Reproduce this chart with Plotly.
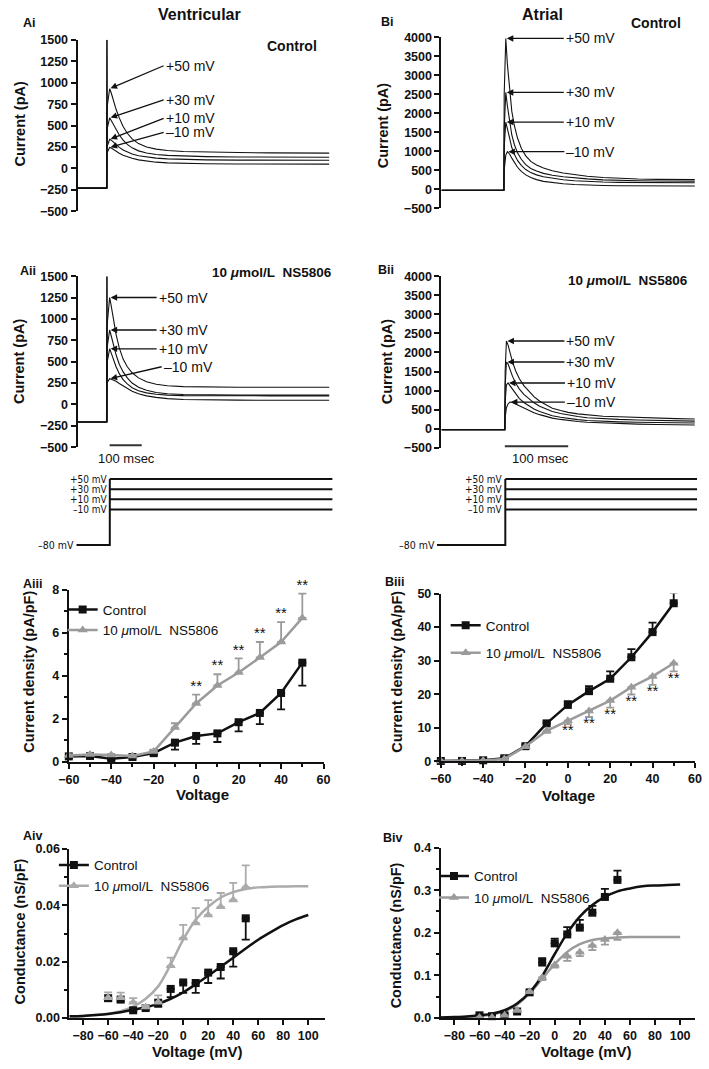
import plotly.graph_objects as go

W, H = 709, 1069
FONT = "Liberation Sans, Arial, Helvetica, sans-serif"
NARROW = "Liberation Sans Narrow, Arial Narrow, DejaVu Sans Condensed, Liberation Sans, sans-serif"
INK = "#111111"
GREY = "#9b9b9b"
GREY_LT = "#ababab"

# ---------------- raw current traces (pA) against time (ms) ----------------
step_labels = ["+50 mV", "+30 mV", "+10 mV", "\u201310 mV"]

t_vent = [0, 91, 91.5, 100, 105, 112, 120, 130, 142, 155, 170, 190, 215, 245, 280, 330, 400, 500, 600, 700, 785]
ctrl_vent_p50 = [-230, -230, 700, 930, 880, 790, 690, 590, 490, 410, 345, 290, 250, 225, 210, 198, 190, 185, 182, 180, 178]
ctrl_vent_p30 = [-230, -230, 450, 590, 560, 510, 450, 390, 330, 280, 240, 205, 180, 163, 152, 143, 138, 134, 132, 130, 130]
ctrl_vent_p10 = [-230, -230, 250, 340, 330, 305, 275, 245, 215, 190, 168, 148, 132, 120, 112, 105, 100, 97, 96, 95, 95]
ctrl_vent_m10 = [-230, -230, 180, 245, 238, 220, 200, 178, 155, 135, 118, 100, 85, 73, 65, 58, 54, 52, 51, 50, 50]

ns_vent_p50 = [-205, -205, 900, 1250, 1150, 980, 820, 660, 530, 440, 370, 310, 265, 235, 218, 208, 203, 201, 200, 200, 200]
ns_vent_p30 = [-205, -205, 650, 870, 800, 690, 580, 470, 380, 310, 250, 200, 165, 140, 125, 115, 110, 108, 108, 108, 108]
ns_vent_p10 = [-205, -205, 480, 650, 600, 520, 440, 360, 290, 240, 195, 160, 135, 118, 108, 103, 100, 100, 100, 100, 100]
ns_vent_m10 = [-205, -205, 250, 300, 295, 285, 270, 245, 215, 185, 155, 125, 100, 82, 68, 58, 52, 50, 48, 48, 48]

# capacitive transient at the start of the step
spike_t = [91, 91.6, 92.2]
ctrl_vent_spike = [-230, 1500, 300]
ns_vent_spike = [-205, 1500, 300]

t_atr = [0, 98.5, 99, 101.5, 104, 107.5, 111, 115, 120, 126, 133, 141, 150, 161, 175, 192, 210, 230, 255, 280, 310, 340, 370, 400]
ctrl_atr_p50 = [-25, -25, 2500, 3970, 3300, 2550, 2050, 1680, 1350, 1080, 880, 735, 640, 560, 490, 430, 385, 345, 310, 285, 270, 262, 260, 258]
ctrl_atr_p30 = [-25, -25, 1600, 2550, 2200, 1750, 1430, 1180, 960, 790, 650, 550, 480, 420, 370, 330, 300, 275, 250, 235, 225, 220, 217, 216]
ctrl_atr_p10 = [-25, -25, 1100, 1770, 1600, 1320, 1100, 920, 760, 630, 520, 440, 380, 330, 285, 250, 225, 205, 192, 183, 178, 175, 173, 173]
ctrl_atr_m10 = [-25, -25, 500, 900, 990, 930, 820, 700, 580, 470, 380, 310, 255, 210, 175, 148, 128, 112, 100, 93, 89, 87, 86, 86]

t_atr_ns = [0, 100, 100.5, 102.5, 105, 108, 112, 117, 123, 130, 138, 146, 155, 165, 175, 188, 200, 215, 230, 255, 280, 310, 340, 370, 400]
ns_atr_p50 = [-25, -25, 1500, 2300, 2200, 2000, 1760, 1520, 1310, 1130, 970, 840, 720, 620, 540, 480, 430, 390, 360, 330, 315, 295, 280, 265, 255]
ns_atr_p30 = [-25, -25, 1100, 1750, 1700, 1550, 1380, 1200, 1040, 900, 780, 680, 590, 510, 450, 400, 360, 320, 290, 260, 245, 230, 215, 205, 200]
ns_atr_p10 = [-25, -25, 700, 1150, 1200, 1130, 1020, 900, 790, 690, 600, 520, 450, 390, 340, 300, 270, 240, 215, 190, 180, 170, 160, 155, 150]
ns_atr_m10 = [-25, -25, 300, 550, 650, 700, 690, 650, 600, 540, 480, 420, 370, 320, 280, 245, 215, 190, 170, 150, 135, 122, 112, 105, 100]

scale_bar_ms = [100, 200]

# ---------------- voltage protocol ----------------
hold_mv = -80
step_mv = [50, 30, 10, -10]
prot_vent_t = [-3, 100, 785]
prot_atr_t = [-7, 100, 400]

# ---------------- I-V and G-V summaries ----------------
volt = [-60, -50, -40, -30, -20, -10, 0, 10, 20, 30, 40, 50]
sig = ["", "", "", "", "", "", "**", "**", "**", "**", "**", "**"]

vent_dens_ctrl = [0.26, 0.28, 0.15, 0.23, 0.41, 0.90, 1.21, 1.33, 1.85, 2.28, 3.21, 4.62]
vent_dens_ctrl_sem = [0.08, 0.06, 0.06, 0.06, 0.08, 0.33, 0.37, 0.40, 0.43, 0.52, 0.76, 1.07]
vent_dens_ns = [0.30, 0.35, 0.33, 0.28, 0.49, 1.60, 2.72, 3.56, 4.16, 4.86, 5.58, 6.70]
vent_dens_ns_sem = [0.05, 0.05, 0.05, 0.05, 0.08, 0.20, 0.41, 0.52, 0.66, 0.72, 0.92, 1.13]

atr_dens_ctrl = [0.1, 0.1, 0.3, 0.9, 4.5, 11.3, 16.8, 20.9, 24.6, 31.0, 38.5, 47.1]
atr_dens_ctrl_sem = [0.3, 0.3, 0.3, 0.4, 0.5, 0.6, 1.1, 1.5, 2.2, 2.4, 2.8, 3.2]
atr_dens_ns = [0.1, 0.1, 0.2, 0.7, 4.4, 9.1, 12.1, 15.0, 18.1, 22.1, 25.3, 29.2]
atr_dens_ns_sem = [0.2, 0.2, 0.2, 0.3, 0.5, 0.6, 1.0, 1.8, 2.1, 2.2, 2.5, 2.4]

vent_g_ctrl = [0.0070, 0.0065, 0.0027, 0.0035, 0.0054, 0.0103, 0.0126, 0.0124, 0.0161, 0.0181, 0.0237, 0.0354]
vent_g_ctrl_sem = [0.0010, 0.0008, 0.0005, 0.0006, 0.0015, 0.0029, 0.0037, 0.0035, 0.0037, 0.0041, 0.0055, 0.0076]
vent_g_ns = [0.0072, 0.0072, 0.0056, 0.0039, 0.0056, 0.0185, 0.0284, 0.0337, 0.0366, 0.0395, 0.0419, 0.0465]
vent_g_ns_sem = [0.0019, 0.0018, 0.0014, 0.0006, 0.0024, 0.0029, 0.0047, 0.0053, 0.0053, 0.0049, 0.0061, 0.0077]

atr_g_ctrl = [0.006, 0.004, 0.006, 0.015, 0.060, 0.130, 0.175, 0.196, 0.212, 0.247, 0.284, 0.324]
atr_g_ctrl_sem = [0.002, 0.002, 0.002, 0.003, 0.004, 0.010, 0.011, 0.017, 0.018, 0.016, 0.019, 0.022]
atr_g_ns = [0.001, 0.001, 0.006, 0.018, 0.062, 0.095, 0.124, 0.145, 0.154, 0.170, 0.184, 0.200]
atr_g_ns_sem = [0.001, 0.001, 0.002, 0.003, 0.004, 0.006, 0.006, 0.011, 0.009, 0.011, 0.012, 0.017]

# Boltzmann fit curves
v_fit = [-91, -80, -70, -60, -50, -40, -30, -20, -10, 0, 10, 20, 30, 40, 50, 60, 70, 80, 90, 100]
vent_fit_ctrl = [0.0006, 0.0007, 0.0010, 0.0014, 0.0020, 0.0029, 0.0038, 0.0050, 0.0068, 0.0091, 0.0119, 0.0150, 0.0182,
                 0.0214, 0.0247, 0.0278, 0.0305, 0.0330, 0.0350, 0.0366]
vent_fit_ns = [0.0005, 0.0007, 0.0010, 0.0015, 0.0024, 0.0040, 0.0068, 0.0112, 0.0190, 0.0278, 0.0349, 0.0395, 0.0428,
               0.0447, 0.0458, 0.0464, 0.0466, 0.0467, 0.0468, 0.0468]
atr_fit_ctrl = [0.001, 0.002, 0.003, 0.006, 0.010, 0.018, 0.034, 0.060, 0.099, 0.150, 0.199, 0.238, 0.265, 0.284, 0.297,
                0.304, 0.309, 0.311, 0.312, 0.313]
atr_fit_ns = [0.0005, 0.001, 0.002, 0.004, 0.008, 0.016, 0.031, 0.058, 0.092, 0.126, 0.155, 0.173, 0.183, 0.187, 0.189,
              0.190, 0.190, 0.190, 0.190, 0.190]

NS_NAME = "10 <i>\u03bc</i>mol/L\u00a0 NS5806"


def xdom(left, right):
    return [left / W, right / W]


def ydom(top, bottom):
    return [1 - bottom / H, 1 - top / H]


def px(x, y):
    return x / W, 1 - y / H


tickfont = dict(family=FONT, size=12.5, color=INK, weight="bold")


def axis(rng, dom, **kw):
    d = dict(range=rng, domain=dom, showline=True, linewidth=2, linecolor=INK,
             ticks="outside", ticklen=5, tickwidth=2, tickcolor=INK,
             tickprefix="<b>", ticksuffix="</b>",
             showgrid=False, zeroline=False, tickfont=tickfont, fixedrange=True)
    d.update(kw)
    return d


hidden = dict(visible=False, showgrid=False, zeroline=False, fixedrange=True)

fig = go.Figure()
ann = []
shapes = []

# ---------------- current traces ----------------
def add_currents(t, series, n, spike=None):
    if spike is not None:
        fig.add_trace(go.Scatter(x=spike_t, y=spike, mode="lines", line=dict(color=INK, width=1.6),
                                 xaxis=f"x{n}", yaxis=f"y{n}", showlegend=False, hoverinfo="skip"))
    for s in series:
        fig.add_trace(go.Scatter(x=t, y=s, mode="lines", line=dict(color=INK, width=1.1),
                                 xaxis=f"x{n}", yaxis=f"y{n}", showlegend=False, hoverinfo="skip"))


def add_arrows(t, series, n, offsets):
    for s, lab, (ax, ay) in zip(series, step_labels, offsets):
        i = s.index(max(s))
        ann.append(dict(x=t[i], y=s[i], xref=f"x{n}", yref=f"y{n}", text=lab, showarrow=True,
                        arrowhead=2, arrowsize=1, arrowwidth=1.3, arrowcolor=INK, ax=ax, ay=ay,
                        xanchor="left", yanchor="middle", standoff=1,
                        font=dict(family=FONT, size=14, color=INK)))


ctrl_vent = [ctrl_vent_p50, ctrl_vent_p30, ctrl_vent_p10, ctrl_vent_m10]
ns_vent = [ns_vent_p50, ns_vent_p30, ns_vent_p10, ns_vent_m10]
ctrl_atr = [ctrl_atr_p50, ctrl_atr_p30, ctrl_atr_p10, ctrl_atr_m10]
ns_atr = [ns_atr_p50, ns_atr_p30, ns_atr_p10, ns_atr_m10]

add_currents(t_vent, ctrl_vent, 1, ctrl_vent_spike)
add_currents(t_atr, ctrl_atr, 2)
add_currents(t_vent, ns_vent, 3, ns_vent_spike)
add_currents(t_atr_ns, ns_atr, 4)

add_arrows(t_vent, ctrl_vent, 1, [(54, -23), (54, -18), (54, -21), (54, -15)])
add_arrows(t_atr, ctrl_atr, 2, [(58, 0), (58, 0), (58, 0), (57, 0)])
add_arrows(t_vent, ns_vent, 3, [(47, 0), (47, 0), (47, 0), (52, -12)])
add_arrows(t_atr_ns, ns_atr, 4, [(58, 0), (58, 0), (57, 0), (55, 0)])

# scale bars
for n, ypx in ((3, 444), (4, 445)):
    shapes.append(dict(type="line", xref=f"x{n}", yref="paper", x0=scale_bar_ms[0], x1=scale_bar_ms[1],
                       y0=1 - ypx / H, y1=1 - ypx / H, line=dict(color="#333333", width=2)))

# ---------------- voltage protocols ----------------
for n, pt in ((5, prot_vent_t), (6, prot_atr_t)):
    fig.add_trace(go.Scatter(x=[pt[0], pt[1], pt[1]], y=[hold_mv, hold_mv, max(step_mv)], mode="lines",
                             line=dict(color=INK, width=2), xaxis=f"x{n}", yaxis=f"y{n}",
                             showlegend=False, hoverinfo="skip"))
    for v, lab in zip(step_mv, step_labels):
        fig.add_trace(go.Scatter(x=[pt[1], pt[2]], y=[v, v], mode="lines", line=dict(color=INK, width=2),
                                 xaxis=f"x{n}", yaxis=f"y{n}", showlegend=False, hoverinfo="skip"))
        ann.append(dict(x=pt[1], y=v, xref=f"x{n}", yref=f"y{n}", text=lab, showarrow=False,
                        xanchor="right", yanchor="middle", xshift=-1, borderpad=0,
                        font=dict(family=NARROW, size=10, color=INK)))
    ann.append(dict(x=pt[0], y=hold_mv, xref=f"x{n}", yref=f"y{n}", text="\u201380 mV", showarrow=False,
                    xanchor="right", yanchor="middle", xshift=-1, borderpad=0,
                    font=dict(family=NARROW, size=10.5, color=INK)))


# ---------------- summary panels ----------------
def err(vals, up):
    zeros = [0] * len(vals)
    if up:
        return dict(type="data", symmetric=False, array=vals, arrayminus=zeros, thickness=1.8, width=4)
    return dict(type="data", symmetric=False, array=zeros, arrayminus=vals, thickness=1.8, width=4)


def iv_panel(n, ctrl, ctrl_sem, ctrl_up, ns, ns_sem, ns_up, leg, grey):
    fig.add_trace(go.Scatter(x=volt, y=ctrl, mode="lines+markers", name="Control", legend=leg,
                             legendgroup=leg + "c", line=dict(color=INK, width=2.5),
                             marker=dict(symbol="square", size=8, color=INK),
                             error_y=dict(err(ctrl_sem, ctrl_up), color=INK), cliponaxis=False,
                             xaxis=f"x{n}", yaxis=f"y{n}", hoverinfo="skip"))
    fig.add_trace(go.Scatter(x=volt, y=ns, mode="lines+markers", name=NS_NAME, legend=leg,
                             legendgroup=leg + "n", line=dict(color=grey, width=2.5),
                             marker=dict(symbol="triangle-up", size=9, color=grey),
                             error_y=dict(err(ns_sem, ns_up), color=grey), cliponaxis=False,
                             xaxis=f"x{n}", yaxis=f"y{n}", hoverinfo="skip"))
    if ns_up:
        ys = [a + b for a, b in zip(ns, ns_sem)]
        pos = "top center"
    else:
        ys = [a - b for a, b in zip(ns, ns_sem)]
        pos = "bottom center"
    fig.add_trace(go.Scatter(x=volt, y=ys, mode="text", text=sig, textposition=pos,
                             textfont=dict(family=FONT, size=15, color=INK), cliponaxis=False,
                             xaxis=f"x{n}", yaxis=f"y{n}", showlegend=False, hoverinfo="skip"))


def gv_panel(n, ctrl, ctrl_sem, ctrl_up, ns, ns_sem, ns_up, fit_c, fit_n, leg, grey):
    fig.add_trace(go.Scatter(x=v_fit, y=fit_n, mode="lines", line=dict(color=grey, width=2.5, shape="spline"),
                             xaxis=f"x{n}", yaxis=f"y{n}", showlegend=False, hoverinfo="skip"))
    fig.add_trace(go.Scatter(x=v_fit, y=fit_c, mode="lines", line=dict(color=INK, width=2.5, shape="spline"),
                             xaxis=f"x{n}", yaxis=f"y{n}", showlegend=False, hoverinfo="skip"))
    fig.add_trace(go.Scatter(x=volt, y=ctrl, mode="markers", marker=dict(symbol="square", size=8, color=INK),
                             error_y=dict(err(ctrl_sem, ctrl_up), color=INK), cliponaxis=False,
                             xaxis=f"x{n}", yaxis=f"y{n}", showlegend=False, hoverinfo="skip"))
    fig.add_trace(go.Scatter(x=volt, y=ns, mode="markers", marker=dict(symbol="triangle-up", size=9, color=grey),
                             error_y=dict(err(ns_sem, ns_up), color=grey), cliponaxis=False,
                             xaxis=f"x{n}", yaxis=f"y{n}", showlegend=False, hoverinfo="skip"))
    # legend entries (line + marker, as in the original key)
    fig.add_trace(go.Scatter(x=[None], y=[None], mode="lines+markers", name="Control", legend=leg,
                             legendgroup=leg + "c", line=dict(color=INK, width=2.5),
                             marker=dict(symbol="square", size=8, color=INK), xaxis=f"x{n}", yaxis=f"y{n}"))
    fig.add_trace(go.Scatter(x=[None], y=[None], mode="lines+markers", name=NS_NAME, legend=leg,
                             legendgroup=leg + "n", line=dict(color=grey, width=2.5),
                             marker=dict(symbol="triangle-up", size=9, color=grey), xaxis=f"x{n}", yaxis=f"y{n}"))


iv_panel(7, vent_dens_ctrl, vent_dens_ctrl_sem, False, vent_dens_ns, vent_dens_ns_sem, True, "legend", GREY)
iv_panel(8, atr_dens_ctrl, atr_dens_ctrl_sem, True, atr_dens_ns, atr_dens_ns_sem, False, "legend2", GREY)
gv_panel(9, vent_g_ctrl, vent_g_ctrl_sem, False, vent_g_ns, vent_g_ns_sem, True,
         vent_fit_ctrl, vent_fit_ns, "legend3", GREY_LT)
gv_panel(10, atr_g_ctrl, atr_g_ctrl_sem, True, atr_g_ns, atr_g_ns_sem, False,
         atr_fit_ctrl, atr_fit_ns, "legend4", GREY)

# ---------------- layout ----------------
layout = dict(width=W, height=H, margin=dict(l=0, r=0, t=0, b=0), paper_bgcolor="white",
              plot_bgcolor="white", font=dict(family=FONT, color=INK), hovermode=False)

layout["xaxis"] = dict(hidden, range=[0, 785], domain=xdom(68.3, 326.7), anchor="y")
layout["yaxis"] = axis([-500, 1500], ydom(33.3, 207), dtick=250, anchor="x")
layout["xaxis2"] = dict(hidden, range=[0, 400], domain=xdom(441.7, 701.7), anchor="y2")
layout["yaxis2"] = axis([-500, 4000], ydom(30.7, 204), dtick=500, anchor="x2")
layout["xaxis3"] = dict(hidden, range=[0, 785], domain=xdom(68.3, 326.7), anchor="y3")
layout["yaxis3"] = axis([-500, 1500], ydom(272.7, 446), dtick=250, anchor="x3")
layout["xaxis4"] = dict(hidden, range=[0, 400], domain=xdom(441.7, 701.7), anchor="y4")
layout["yaxis4"] = axis([-500, 4000], ydom(272.7, 446.7), dtick=500, anchor="x4")
layout["xaxis5"] = dict(hidden, range=[prot_vent_t[0], prot_vent_t[2]], domain=xdom(67, 330), anchor="y5")
layout["yaxis5"] = dict(hidden, range=[-90, 60], domain=ydom(473.2, 550.2), anchor="x5")
layout["xaxis6"] = dict(hidden, range=[prot_atr_t[0], prot_atr_t[2]], domain=xdom(437, 704), anchor="y6")
layout["yaxis6"] = dict(hidden, range=[-90, 60], domain=ydom(473.2, 550.2), anchor="x6")

minor = dict(ticks="outside", ticklen=3, tickwidth=1.5, tickcolor=INK)
layout["xaxis7"] = axis([-60, 60], xdom(59.3, 320.7), dtick=20, anchor="y7", minor=dict(minor, dtick=10))
layout["yaxis7"] = axis([0, 8], ydom(590.7, 765), dtick=2, anchor="x7", minor=dict(minor, dtick=1))
layout["xaxis8"] = axis([-60, 60], xdom(441, 701.7), dtick=20, anchor="y8", minor=dict(minor, dtick=10))
layout["yaxis8"] = axis([0, 50], ydom(594.3, 764.3), dtick=10, anchor="x8")
layout["xaxis9"] = axis([-91, 113], xdom(59.9, 321.7), tick0=-80, dtick=20, anchor="y9")
layout["yaxis9"] = axis([0, 0.06], ydom(853.3, 1024.3), dtick=0.02, tickformat=".2f", anchor="x9",
                        minor=dict(minor, dtick=0.01))
layout["xaxis10"] = axis([-91, 112], xdom(440.8, 702), tick0=-80, dtick=20, anchor="y10")
layout["yaxis10"] = axis([0, 0.4], ydom(851.7, 1024.3), dtick=0.1, tickformat=".1f", anchor="x10",
                         minor=dict(minor, dtick=0.05))

legfont = dict(family=FONT, size=13.5, color=INK)
for key, (lx, ly, gap) in {"legend": (53, 595, 0), "legend2": (446, 611, 7),
                           "legend3": (44, 854, 0), "legend4": (434, 865, 1)}.items():
    x, y = px(lx, ly)
    layout[key] = dict(x=x, y=y, xanchor="left", yanchor="top", bgcolor="rgba(0,0,0,0)",
                       font=legfont, tracegroupgap=gap, itemwidth=30, borderwidth=0)

# texts: titles, panel labels, axis titles
def text(s, x, y, size, bold=True, angle=0, anchor="center", family=FONT):
    xx, yy = px(x, y)
    ann.append(dict(x=xx, y=yy, xref="paper", yref="paper", text=s, showarrow=False, textangle=angle,
                    xanchor=anchor, yanchor="middle",
                    font=dict(family=family, size=size, color=INK, weight="bold" if bold else "normal")))


text("Ventricular", 193, 8, 16)
text("Atrial", 545, 8, 16)
text("Control", 288, 39.3, 14)
text("Control", 662, 16.7, 14)
text("10 <i>\u03bc</i>mol/L\u00a0 NS5806", 268, 269.3, 13.5)
text("10 <i>\u03bc</i>mol/L\u00a0 NS5806", 633, 276.7, 13.5)
text("100 msec", 119, 457, 13, bold=False)
text("100 msec", 543.6, 457, 13, bold=False)

for lab, x, y in [("Ai", 10, 16), ("Bi", 377.7, 15), ("Aii", 7, 268), ("Bii", 375, 266.7),
                  ("Aiii", 10, 585), ("Biii", 382, 582.7), ("Aiv", 10, 840), ("Biv", 380, 841.7)]:
    text(lab, x, y, 12.5, anchor="left")

for lab, x, y in [("Current (pA)", 9, 118.3), ("Current (pA)", 382.5, 120),
                  ("Current (pA)", 9, 359), ("Current (pA)", 385.8, 359),
                  ("Current density (pA/pF)", 19, 674), ("Current density (pA/pF)", 396.7, 674),
                  ("Conductance (nS/pF)", 9.2, 936.7), ("Conductance (nS/pF)", 395, 940.7)]:
    text(lab, x, y, 14.5, angle=-90)

for lab, x, y in [("Voltage", 196, 798.3), ("Voltage", 572.5, 799.3),
                  ("Voltage (mV)", 191.7, 1058.3), ("Voltage (mV)", 590, 1058.3)]:
    text(lab, x, y, 15)

layout["annotations"] = ann
layout["shapes"] = shapes
fig.update_layout(layout)

# the page margin would push the 709x1069 figure out of the window
fig.write_html("out.html", config={"displayModeBar": False},
               post_script="document.body.style.margin='0';")
